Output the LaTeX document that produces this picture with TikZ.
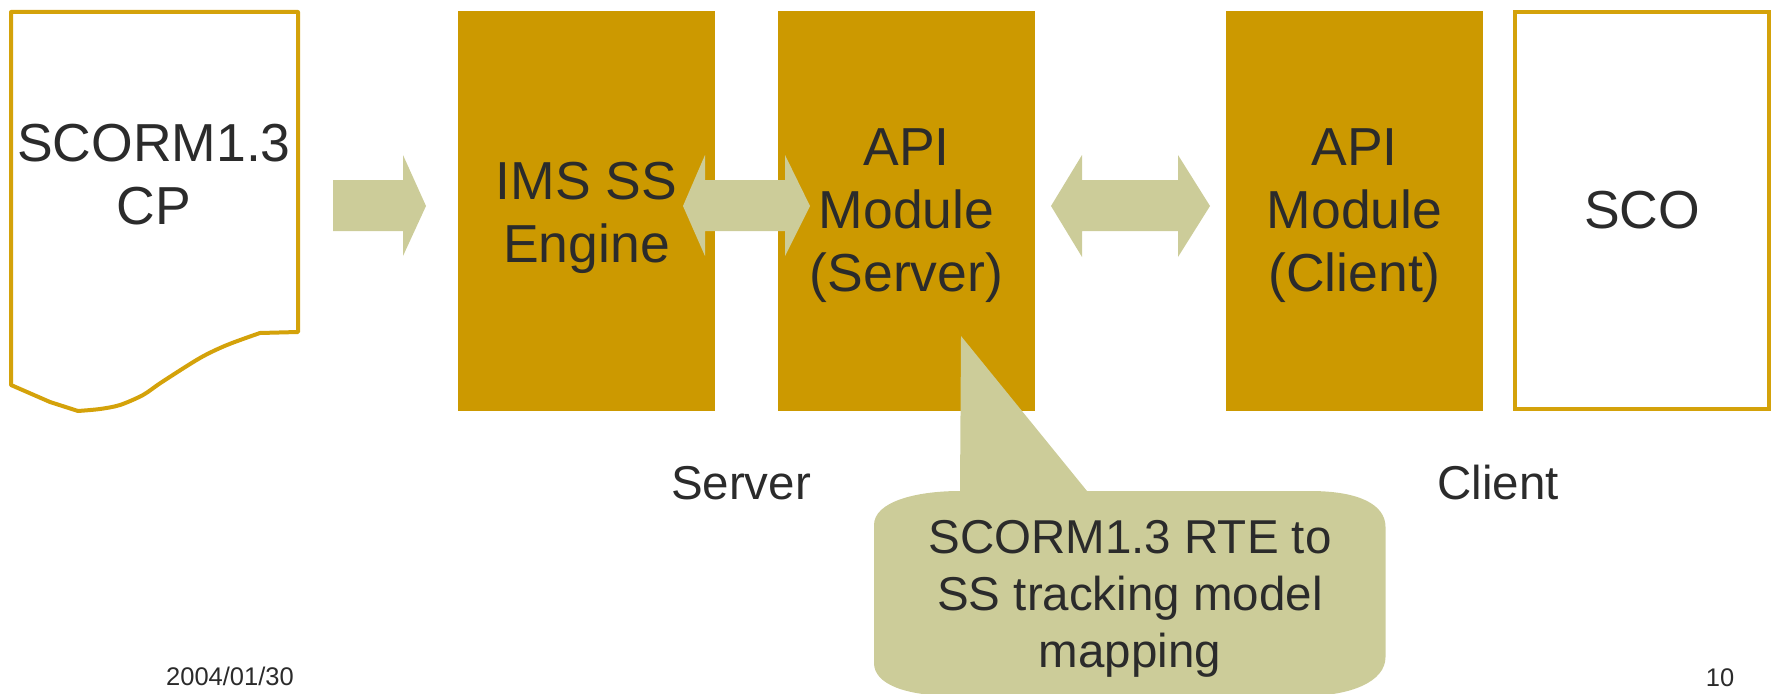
\documentclass[tikz,border=0pt]{standalone}
\usepackage{fontspec}
\setmainfont{Liberation Sans}
\usetikzlibrary{calc}
\definecolor{gold}{HTML}{CC9900}
\definecolor{goldline}{HTML}{D4A20A}
\definecolor{olive}{HTML}{CCCC99}
\definecolor{ink}{HTML}{2B2B2B}
\begin{document}
\begin{tikzpicture}[x=1pt,y=-1pt,
  big/.style={font=\fontsize{53.5}{63}\selectfont, text=ink, align=center, inner sep=0pt},
  mid/.style={font=\fontsize{47.5}{57}\selectfont, text=ink, align=center, inner sep=0pt},
  small/.style={font=\fontsize{25.5}{30}\selectfont, text=ink, inner sep=0pt},
  goldbox/.style={fill=gold, draw=none, inner sep=0pt, outer sep=0pt, anchor=north west,
    minimum width=257pt, minimum height=400pt},
  outline/.style={draw=goldline, line width=4pt, fill=white},
  blockarrow/.style={fill=olive, draw=none}
]
\useasboundingbox (0,0) rectangle (1776,693);
\clip (0,0) rectangle (1776,693);

% document shape (SCORM1.3 CP)
\draw[outline, line join=round] (11,12) -- (298,12) -- (298,332)
  -- plot[smooth, tension=0.5] coordinates {(260,333) (227,345) (200,358) (162,382) (143,395) (120,405) (100,409) (78,411)}
  -- (50,402) -- (11,385) -- cycle;
\node[big] (cp) at (154,175) {SCORM1.3\\CP};

% boxes
\node[goldbox] (engine) at (458,11) {};
\node[goldbox] (apis) at (778,11) {};
\node[goldbox] (apic) at (1226,11) {};
\node[outline, minimum width=254pt, minimum height=397pt, inner sep=0pt] (sco) at (1642,210.5) {};

% arrow CP -> engine
\coordinate (a1s) at (333,206);
\coordinate (a1e) at (426,206);
\fill[blockarrow] ($(a1s)+(0,-26)$) -- (403,180) -- (403,155) -- (a1e) -- (403,256) -- (403,231) -- ($(a1s)+(0,25)$) -- cycle;

% double arrow engine <-> API server
\coordinate (d1l) at (683,206);
\coordinate (d1r) at (810,206);
\fill[blockarrow] (d1l) -- (705,155) -- (705,180) -- (785,180) -- (785,155) -- (d1r)
  -- (785,256) -- (785,231) -- (705,231) -- (705,256) -- cycle;

% double arrow API server <-> API client
\coordinate (d2l) at (1051,206);
\coordinate (d2r) at (1210,206);
\fill[blockarrow] (d2l) -- (1082,155) -- (1082,180) -- (1178,180) -- (1178,155) -- (d2r)
  -- (1178,257) -- (1178,231) -- (1082,231) -- (1082,257) -- cycle;

% box texts
\node[big] (tengine) at (586.5,218) {IMS SS\\Engine};
\node[big] (tapis) at (906.5,216) {API\\Module\\(Server)};
\node[big] (tapic) at (1354.5,216) {API\\Module\\(Client)};
\node[big] (tsco) at (sco.center) {SCO};

% callout
\fill[olive] (874,525) .. controls (874,502) and (915,491) .. (960,491) -- (961,336) -- (1087,491)
  -- (1310,491) .. controls (1360,491) and (1385.5,505) .. (1385.5,527) -- (1385.5,657)
  .. controls (1385.5,682) and (1350,696) .. (1305,696) -- (955,696)
  .. controls (905,696) and (874,684) .. (874,663) -- cycle;
\node[mid] (note) at (1130,599) {SCORM1.3 RTE to\\SS tracking model\\mapping};

% labels
\node[mid, anchor=base] (server) at (741,499) {Server};
\node[mid, anchor=base] (client) at (1498,499) {Client};
\node[small, anchor=base] (date) at (230,685) {2004/01/30};
\node[small, anchor=base] (page) at (1720,686) {10};
\end{tikzpicture}
\end{document}
